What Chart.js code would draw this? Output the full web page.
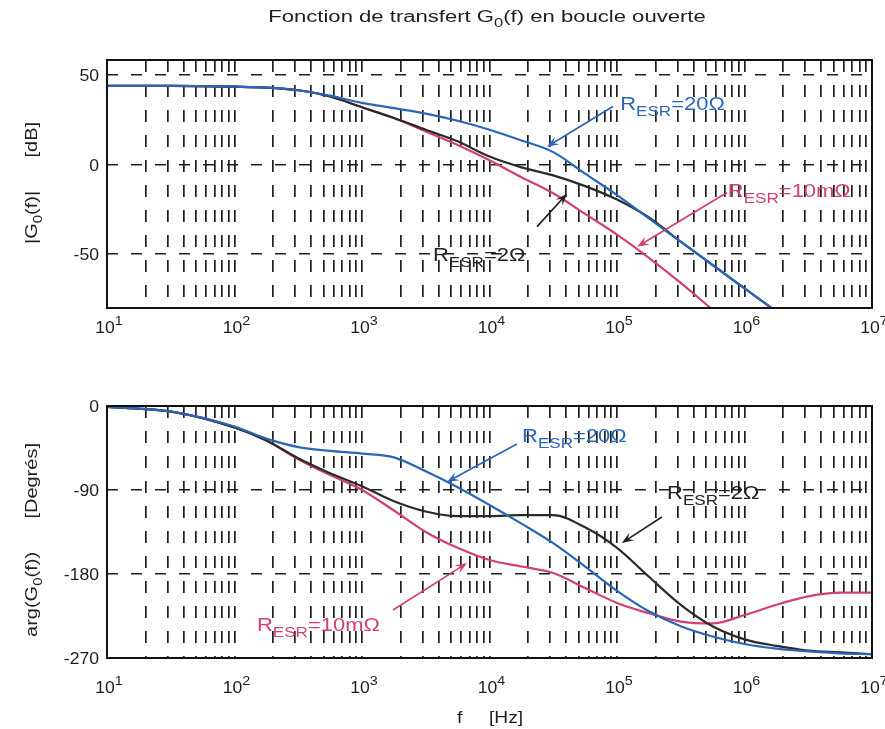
<!DOCTYPE html>
<html><head><meta charset="utf-8">
<script src="https://cdn.jsdelivr.net/npm/chart.js@4.4.1/dist/chart.umd.min.js"></script>
<style>
html,body{margin:0;padding:0;background:#fff;width:885px;height:729px;overflow:hidden;position:relative}
canvas{position:absolute;left:0}
#c1{top:0}
#c2{top:350px}
</style></head><body>
<canvas id="c1" width="885" height="350"></canvas>
<canvas id="c2" width="885" height="379"></canvas>
<script>
// ---------- data ----------
const freqs = [10, 32, 100, 178, 316, 562, 1000, 1780, 3160, 5620, 10000, 17800, 31600, 56200,
               100000, 178000, 316000, 562000, 1000000, 1780000, 3160000, 5620000, 10000000];

// |G0(f)| [dB]
const magR20  = [44, 44, 43.5, 43, 41.5, 38.5, 34.5, 31.5, 28.5, 24.5, 19.5, 13.5, 7, -5, -17, -30, -43, -56, -69, -82, null, null, null];
const magR2   = [44, 44, 43.5, 43, 41.5, 38, 32, 26, 19.5, 13, 4.5, -1.5, -6, -12, -19.5, -29.5, -43, -56, -69, -82, null, null, null];
const magR10m = [44, 44, 43.5, 43, 41.5, 38, 32, 26, 18.5, 11, 2.5, -7, -16, -27.5, -39, -52, -66, -81, null, null, null, null, null];

// arg(G0(f)) [degrés]
const phR20  = [-1, -6, -22, -35, -44, -48, -51, -55, -70, -87, -106, -126, -147, -172, -198, -220, -236, -247, -255, -260, -263, -265, -266];
const phR2   = [-1, -6, -23, -37, -56, -72, -86, -102, -113, -118, -118, -117, -117, -130, -152, -183, -213, -236, -250, -257, -262, -264, -266];
const phR10m = [-1, -6, -23, -37, -57, -74, -90, -112, -135, -152, -165, -172, -179, -195, -211, -222, -231, -233, -224, -213, -204, -200, -200];

const magTicks = [-50, 0, 50];
const phTicks = [-270, -180, -90, 0];
const decadeExps = [1, 2, 3, 4, 5, 6, 7];

// annotations (data coordinates)
const annTop = [
  {parts: [['R',0],['ESR',1],['=20Ω',0]], color: '#2a66b8', tx: 1.06e5, ty: 30.7, x1: 9.3e4, y1: 32.4, x2: 2.82e4, y2: 10},
  {parts: [['R',0],['ESR',1],['=10mΩ',0]], color: '#d3416b', tx: 7.4e5, ty: -17.9, x1: 7.3e5, y1: -15.6, x2: 1.44e5, y2: -45.8},
  {parts: [['R',0],['ESR',1],['=2Ω',0]], color: '#222222', tx: 3.6e3, ty: -54, x1: 2.36e4, y1: -34.6, x2: 4.06e4, y2: -16.2}
];
const annBot = [
  {parts: [['R',0],['ESR',1],['=20Ω',0]], color: '#2a66b8', tx: 1.8e4, ty: -38.6, x1: 1.64e4, y1: -40.7, x2: 4.64e3, y2: -81.4},
  {parts: [['R',0],['ESR',1],['=2Ω',0]], color: '#222222', tx: 2.47e5, ty: -99.6, x1: 2.25e5, y1: -118.9, x2: 1.09e5, y2: -146.8},
  {parts: [['R',0],['ESR',1],['=10mΩ',0]], color: '#d3416b', tx: 150, ty: -241, x1: 1750, y1: -218.6, x2: 6670, y2: -168.2}
];

// ---------- helpers ----------
const FONT = '"Liberation Sans", Arial, Helvetica, sans-serif';
const BLUE = '#2a66b8', RED = '#d3416b', BLACK = '#2a2a2a';

function drawRich(ctx, x, y, parts, fs, color, align, sx, subScale) {
  const ss = subScale || 0.75;
  const segs = []; let w = 0;
  for (const [t, k] of parts) {
    const s = k ? Math.round(fs * ss) : fs;
    ctx.font = s + 'px ' + FONT;
    const mw = ctx.measureText(t).width;
    segs.push({t, k, s, w: mw}); w += mw;
  }
  ctx.save();
  ctx.translate(x, y); ctx.scale(sx, 1);
  let cx = align === 'center' ? -w / 2 : align === 'right' ? -w : 0;
  ctx.fillStyle = color; ctx.textBaseline = 'alphabetic'; ctx.textAlign = 'left';
  for (const sg of segs) {
    ctx.font = sg.s + 'px ' + FONT;
    const dy = sg.k === 1 ? fs * 0.33 : sg.k === 2 ? -fs * 0.5 : 0;
    ctx.fillText(sg.t, cx, dy); cx += sg.w;
  }
  ctx.restore();
}
function arrow(ctx, x1, y1, x2, y2, color) {
  ctx.save();
  ctx.strokeStyle = color; ctx.fillStyle = color; ctx.lineWidth = 1.7;
  const a = Math.atan2(y2 - y1, x2 - x1), L = 12, W = 4.5;
  ctx.beginPath(); ctx.moveTo(x1, y1); ctx.lineTo(x2 - L * 0.6 * Math.cos(a), y2 - L * 0.6 * Math.sin(a)); ctx.stroke();
  ctx.beginPath(); ctx.moveTo(x2, y2);
  ctx.lineTo(x2 - L * Math.cos(a) + W * Math.sin(a), y2 - L * Math.sin(a) - W * Math.cos(a));
  ctx.lineTo(x2 - L * 0.6 * Math.cos(a), y2 - L * 0.6 * Math.sin(a));
  ctx.lineTo(x2 - L * Math.cos(a) - W * Math.sin(a), y2 - L * Math.sin(a) + W * Math.cos(a));
  ctx.closePath(); ctx.fill();
  ctx.restore();
}

function xGridValues() {
  const v = [];
  for (let e = 1; e < 7; e++) for (let m = 1; m <= 9; m++) v.push(m * Math.pow(10, e));
  v.push(1e7);
  return v;
}

function makeOverlay(o) {
  return {
    id: 'overlay' + o.name,
    afterDraw(chart) {
      const ctx = chart.ctx, ca = chart.chartArea;
      const xs = chart.scales.x, ys = chart.scales.y;
      ctx.save();
      // box
      ctx.strokeStyle = '#111'; ctx.lineWidth = 2;
      ctx.strokeRect(ca.left, ca.top, ca.right - ca.left, ca.bottom - ca.top);
      // y tick labels
      for (const t of ys.ticks) {
        drawRich(ctx, ca.left - 8, ys.getPixelForValue(t.value) + 6, [[String(t.value), 0]], 16, '#1e1e1e', 'right', 1.1);
      }
      // x tick labels at decades
      for (const e of decadeExps) {
        const px = xs.getPixelForValue(Math.pow(10, e));
        drawRich(ctx, px + 2, o.xLabelY, [['10', 0], [String(e), 2]], 16, '#1e1e1e', 'center', 1.1, 0.8);
      }
      // y title (rotated)
      ctx.save();
      ctx.translate(o.yTitleX, o.yTitleY); ctx.rotate(-Math.PI / 2);
      drawRich(ctx, 0, 0, o.yTitle, 16, '#1e1e1e', 'center', 1.25);
      ctx.restore();
      // title / x title
      if (o.title) drawRich(ctx, o.title.x, o.title.y, o.title.parts, o.title.fs, '#1e1e1e', 'center', o.title.sx);
      // annotations
      for (const a of o.ann) {
        arrow(ctx, xs.getPixelForValue(a.x1), ys.getPixelForValue(a.y1), xs.getPixelForValue(a.x2), ys.getPixelForValue(a.y2), a.color);
        drawRich(ctx, xs.getPixelForValue(a.tx), ys.getPixelForValue(a.ty), a.parts, 18, a.color, 'left', 1.22);
      }
      ctx.restore();
    }
  };
}

function series(vals) { return freqs.map((f, i) => ({x: f, y: vals[i]})); }

function makeChart(id, sets, yMin, yMax, yTickVals, padding, overlay) {
  return new Chart(document.getElementById(id), {
    type: 'line',
    data: {
      datasets: sets.map(([vals, color]) => ({
        data: series(vals), borderColor: color, borderWidth: 2.2, pointRadius: 0,
        cubicInterpolationMode: 'monotone', fill: false, spanGaps: false
      }))
    },
    options: {
      responsive: false, animation: false, devicePixelRatio: 1,
      layout: {padding},
      plugins: {legend: {display: false}, tooltip: {enabled: false}, title: {display: false}},
      scales: {
        x: {
          type: 'logarithmic', min: 10, max: 1e7,
          afterBuildTicks: s => { s.ticks = xGridValues().map(v => ({value: v})); },
          afterFit: s => { s.height = 0; },
          ticks: {display: false},
          grid: {color: '#1e1e1e', lineWidth: 1.7, drawTicks: false},
          border: {display: false, dash: [12, 13]}
        },
        y: {
          type: 'linear', min: yMin, max: yMax,
          afterBuildTicks: s => { s.ticks = yTickVals.map(v => ({value: v})); },
          afterFit: s => { s.width = 0; },
          ticks: {display: false},
          grid: {color: '#1e1e1e', lineWidth: 1.6, drawTicks: false},
          border: {display: false, dash: [11, 13]}
        }
      }
    },
    plugins: [overlay]
  });
}

// dataset index 0 is drawn on top
makeChart('c1', [[magR20, BLUE], [magR2, BLACK], [magR10m, RED]], -80, 58.4, magTicks,
  {left: 107, right: 13, top: 60, bottom: 42},
  makeOverlay({name: 'top', xLabelY: 333, yTitleX: 37, yTitleY: 183,
    yTitle: [['|G', 0], ['0', 1], ['(f)|      [dB]', 0]],
    title: {x: 487, y: 22, fs: 16, sx: 1.38, parts: [['Fonction de transfert G', 0], ['0', 1], ['(f) en boucle ouverte', 0]]},
    ann: annTop}));

makeChart('c2', [[phR20, BLUE], [phR2, BLACK], [phR10m, RED]], -270, 0, phTicks,
  {left: 107, right: 13, top: 56, bottom: 71},
  makeOverlay({name: 'bot', xLabelY: 343, yTitleX: 37, yTitleY: 190,
    yTitle: [['arg(G', 0], ['0', 1], ['(f))      [Degrés]', 0]],
    title: {x: 490, y: 373, fs: 16, sx: 1.2, parts: [['f     [Hz]', 0]]},
    ann: annBot}));
</script>
</body></html>
